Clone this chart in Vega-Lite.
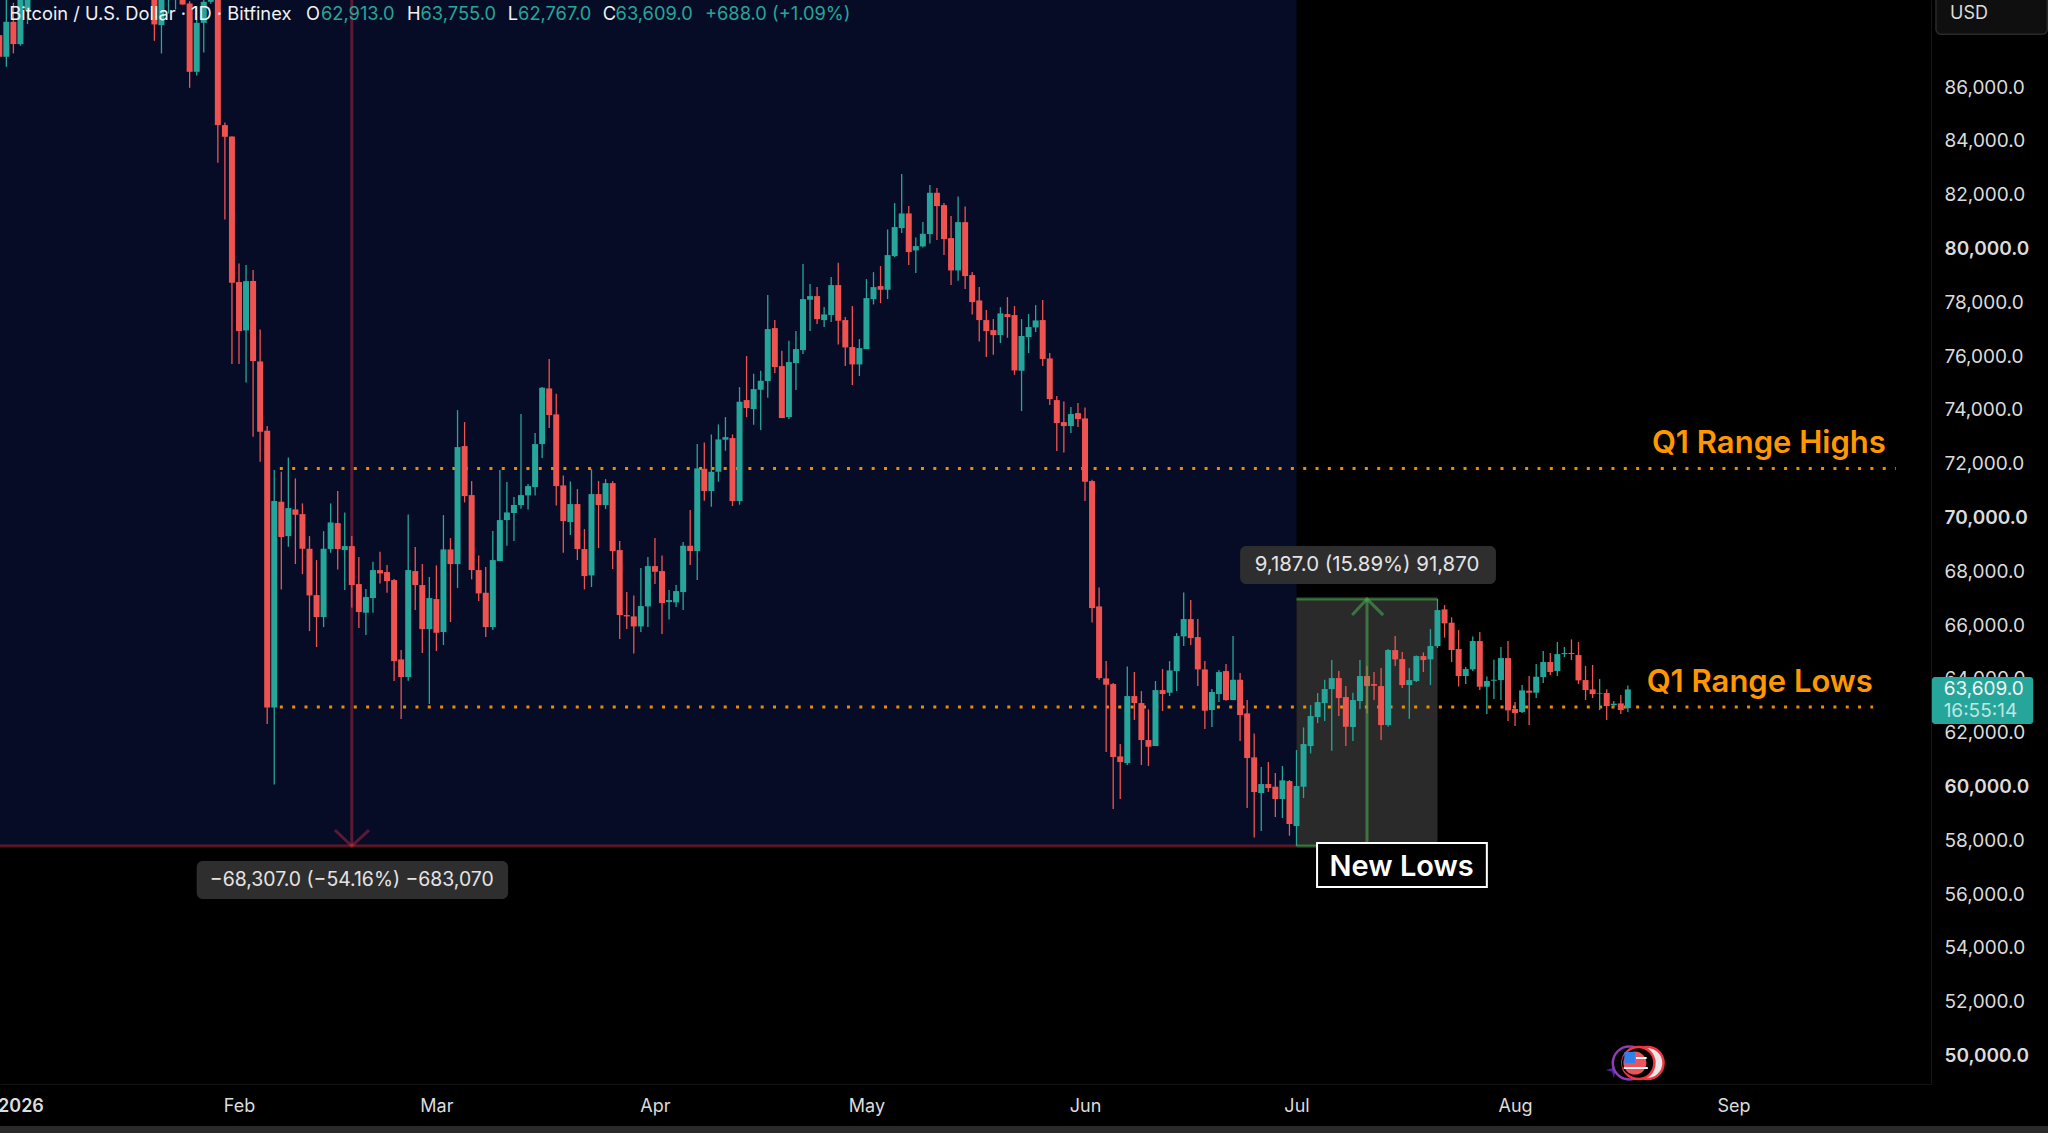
{
  "$schema": "https://vega.github.io/schema/vega-lite/v6.json",
  "width": 1931,
  "height": 1084,
  "autosize": "none",
  "padding": {"left": 0, "top": 0, "right": 117, "bottom": 49},
  "background": "#000000",
  "config": {"view": {"stroke": null}, "text": {"font": "Inter"}},
  "datasets": {
    "candles": [
      {"date":"2025-12-29","o":87932,"h":89500,"l":86780,"c":87127},
      {"date":"2025-12-30","o":87127,"h":89400,"l":86755,"c":88428},
      {"date":"2025-12-31","o":88428,"h":89134,"l":87251,"c":87598},
      {"date":"2026-01-01","o":87598,"h":89600,"l":87536,"c":89300},
      {"date":"2026-01-02","o":88861,"h":90500,"l":88341,"c":89900},
      {"date":"2026-01-20","o":90000,"h":90500,"l":87721,"c":88329},
      {"date":"2026-01-21","o":88304,"h":90000,"l":87251,"c":89400},
      {"date":"2026-01-22","o":89300,"h":90300,"l":88737,"c":89800},
      {"date":"2026-01-23","o":89350,"h":90500,"l":88886,"c":89900},
      {"date":"2026-01-24","o":89500,"h":89800,"l":89060,"c":89072},
      {"date":"2026-01-25","o":89109,"h":89196,"l":85974,"c":86569},
      {"date":"2026-01-26","o":86569,"h":89000,"l":86433,"c":88390},
      {"date":"2026-01-27","o":88390,"h":89500,"l":87288,"c":89171},
      {"date":"2026-01-28","o":89171,"h":89700,"l":89100,"c":89300},
      {"date":"2026-01-29","o":89300,"h":89600,"l":83187,"c":84587},
      {"date":"2026-01-30","o":84587,"h":84686,"l":81080,"c":84153},
      {"date":"2026-01-31","o":84165,"h":84165,"l":75703,"c":78726},
      {"date":"2026-02-01","o":78751,"h":79445,"l":75703,"c":76930},
      {"date":"2026-02-02","o":76955,"h":79383,"l":75022,"c":78788},
      {"date":"2026-02-03","o":78788,"h":79197,"l":73002,"c":75815},
      {"date":"2026-02-04","o":75802,"h":76992,"l":72072,"c":73188},
      {"date":"2026-02-05","o":73225,"h":73398,"l":62322,"c":62941},
      {"date":"2026-02-06","o":62941,"h":71763,"l":60079,"c":70610},
      {"date":"2026-02-07","o":70586,"h":71701,"l":67327,"c":69272},
      {"date":"2026-02-08","o":69309,"h":72234,"l":68913,"c":70350},
      {"date":"2026-02-09","o":70301,"h":71453,"l":68269,"c":70102},
      {"date":"2026-02-10","o":70127,"h":70524,"l":67897,"c":68839},
      {"date":"2026-02-11","o":68839,"h":69309,"l":65778,"c":67104},
      {"date":"2026-02-12","o":67116,"h":68417,"l":65184,"c":66299},
      {"date":"2026-02-13","o":66299,"h":69495,"l":65927,"c":68839},
      {"date":"2026-02-14","o":68826,"h":70524,"l":68690,"c":69817},
      {"date":"2026-02-15","o":69793,"h":70982,"l":68070,"c":68826},
      {"date":"2026-02-16","o":68789,"h":70189,"l":67302,"c":68938},
      {"date":"2026-02-17","o":68938,"h":69309,"l":66658,"c":67488},
      {"date":"2026-02-18","o":67525,"h":68529,"l":65890,"c":66485},
      {"date":"2026-02-19","o":66460,"h":67339,"l":65630,"c":67042},
      {"date":"2026-02-20","o":67005,"h":68355,"l":66460,"c":68046},
      {"date":"2026-02-21","o":68046,"h":68727,"l":67550,"c":67922},
      {"date":"2026-02-22","o":67971,"h":68232,"l":67203,"c":67637},
      {"date":"2026-02-23","o":67674,"h":67711,"l":63920,"c":64663},
      {"date":"2026-02-24","o":64725,"h":65072,"l":62507,"c":64069},
      {"date":"2026-02-25","o":64069,"h":70115,"l":63932,"c":68046},
      {"date":"2026-02-26","o":68009,"h":68901,"l":66559,"c":67488},
      {"date":"2026-02-27","o":67488,"h":68269,"l":64961,"c":65853},
      {"date":"2026-02-28","o":65853,"h":67786,"l":63065,"c":67005},
      {"date":"2026-03-01","o":66968,"h":68219,"l":65035,"c":65716},
      {"date":"2026-03-02","o":65741,"h":70090,"l":65258,"c":68814},
      {"date":"2026-03-03","o":68814,"h":69235,"l":66113,"c":68269},
      {"date":"2026-03-04","o":68269,"h":73993,"l":67377,"c":72618},
      {"date":"2026-03-05","o":72655,"h":73547,"l":70561,"c":70796},
      {"date":"2026-03-06","o":70833,"h":71354,"l":67699,"c":68046},
      {"date":"2026-03-07","o":68046,"h":68591,"l":66893,"c":67178},
      {"date":"2026-03-08","o":67203,"h":68157,"l":65555,"c":65927},
      {"date":"2026-03-09","o":65927,"h":69495,"l":65815,"c":68417},
      {"date":"2026-03-10","o":68380,"h":71763,"l":68380,"c":69904},
      {"date":"2026-03-11","o":69904,"h":71317,"l":68950,"c":70189},
      {"date":"2026-03-12","o":70164,"h":70759,"l":69124,"c":70462},
      {"date":"2026-03-13","o":70462,"h":73844,"l":70325,"c":70833},
      {"date":"2026-03-14","o":70821,"h":71242,"l":70301,"c":71168},
      {"date":"2026-03-15","o":71131,"h":73138,"l":70821,"c":72729},
      {"date":"2026-03-16","o":72729,"h":74848,"l":72209,"c":74823},
      {"date":"2026-03-17","o":74798,"h":75889,"l":73324,"c":73807},
      {"date":"2026-03-18","o":73832,"h":74600,"l":70449,"c":71168},
      {"date":"2026-03-19","o":71193,"h":71564,"l":68690,"c":69867},
      {"date":"2026-03-20","o":69830,"h":71341,"l":69347,"c":70499},
      {"date":"2026-03-21","o":70499,"h":71056,"l":68417,"c":68826},
      {"date":"2026-03-22","o":68826,"h":69570,"l":67327,"c":67823},
      {"date":"2026-03-23","o":67847,"h":71800,"l":67414,"c":70871},
      {"date":"2026-03-24","o":70871,"h":71354,"l":68863,"c":70462},
      {"date":"2026-03-25","o":70462,"h":71428,"l":70313,"c":71279},
      {"date":"2026-03-26","o":71279,"h":71354,"l":68083,"c":68752},
      {"date":"2026-03-27","o":68789,"h":69124,"l":65481,"c":66373},
      {"date":"2026-03-28","o":66373,"h":67228,"l":65853,"c":66323},
      {"date":"2026-03-29","o":66323,"h":67104,"l":64948,"c":65952},
      {"date":"2026-03-30","o":65952,"h":68120,"l":65741,"c":66708},
      {"date":"2026-03-31","o":66695,"h":68529,"l":65927,"c":68194},
      {"date":"2026-04-01","o":68194,"h":69235,"l":67525,"c":67984},
      {"date":"2026-04-02","o":68009,"h":68591,"l":65667,"c":66819},
      {"date":"2026-04-03","o":66856,"h":67302,"l":66212,"c":66931},
      {"date":"2026-04-04","o":66844,"h":67488,"l":66670,"c":67265},
      {"date":"2026-04-05","o":67228,"h":69086,"l":66559,"c":68950},
      {"date":"2026-04-06","o":68950,"h":70276,"l":68232,"c":68752},
      {"date":"2026-04-07","o":68752,"h":72729,"l":67674,"c":71825},
      {"date":"2026-04-08","o":71813,"h":72792,"l":70623,"c":70983},
      {"date":"2026-04-09","o":70983,"h":73089,"l":70400,"c":71701},
      {"date":"2026-04-10","o":71701,"h":73461,"l":71330,"c":72903},
      {"date":"2026-04-11","o":72891,"h":73733,"l":72482,"c":72990},
      {"date":"2026-04-12","o":72953,"h":73089,"l":70425,"c":70611},
      {"date":"2026-04-13","o":70611,"h":74848,"l":70475,"c":74303},
      {"date":"2026-04-14","o":74365,"h":76001,"l":73733,"c":74068},
      {"date":"2026-04-15","o":74031,"h":75344,"l":73448,"c":74774},
      {"date":"2026-04-16","o":74749,"h":75456,"l":73250,"c":75084},
      {"date":"2026-04-17","o":75071,"h":78268,"l":74452,"c":77004},
      {"date":"2026-04-18","o":77041,"h":77339,"l":75369,"c":75592},
      {"date":"2026-04-19","o":75629,"h":76199,"l":73696,"c":73696},
      {"date":"2026-04-20","o":73733,"h":76571,"l":73659,"c":75778},
      {"date":"2026-04-21","o":75741,"h":76930,"l":74737,"c":76261},
      {"date":"2026-04-22","o":76224,"h":79420,"l":76075,"c":78119},
      {"date":"2026-04-23","o":78095,"h":78677,"l":76930,"c":78231},
      {"date":"2026-04-24","o":78231,"h":78565,"l":77190,"c":77376},
      {"date":"2026-04-25","o":77339,"h":77822,"l":77079,"c":77549},
      {"date":"2026-04-26","o":77525,"h":78937,"l":77264,"c":78640},
      {"date":"2026-04-27","o":78640,"h":79470,"l":76434,"c":77314},
      {"date":"2026-04-28","o":77339,"h":77450,"l":75629,"c":76323},
      {"date":"2026-04-29","o":76335,"h":77859,"l":74923,"c":75691},
      {"date":"2026-04-30","o":75691,"h":76633,"l":75257,"c":76298},
      {"date":"2026-05-01","o":76261,"h":78863,"l":76261,"c":78157},
      {"date":"2026-05-02","o":78119,"h":79123,"l":77921,"c":78565},
      {"date":"2026-05-03","o":78603,"h":79346,"l":77971,"c":78466},
      {"date":"2026-05-04","o":78466,"h":80709,"l":78119,"c":79755},
      {"date":"2026-05-05","o":79718,"h":81688,"l":79681,"c":80796},
      {"date":"2026-05-06","o":80758,"h":82766,"l":80573,"c":81304},
      {"date":"2026-05-07","o":81304,"h":81576,"l":79383,"c":79866},
      {"date":"2026-05-08","o":79928,"h":80412,"l":79086,"c":80089},
      {"date":"2026-05-09","o":80077,"h":80981,"l":80040,"c":80548},
      {"date":"2026-05-10","o":80535,"h":82357,"l":80188,"c":82072},
      {"date":"2026-05-11","o":82072,"h":82245,"l":80312,"c":81576},
      {"date":"2026-05-12","o":81613,"h":81688,"l":79755,"c":80350},
      {"date":"2026-05-13","o":80387,"h":81204,"l":78640,"c":79185},
      {"date":"2026-05-14","o":79185,"h":81935,"l":78801,"c":80981},
      {"date":"2026-05-15","o":80981,"h":81564,"l":78491,"c":78974},
      {"date":"2026-05-16","o":79011,"h":79123,"l":77549,"c":78008},
      {"date":"2026-05-17","o":78070,"h":78565,"l":76546,"c":77339},
      {"date":"2026-05-18","o":77339,"h":77710,"l":75964,"c":76930},
      {"date":"2026-05-19","o":76967,"h":77376,"l":76050,"c":76781},
      {"date":"2026-05-20","o":76781,"h":77822,"l":76484,"c":77587},
      {"date":"2026-05-21","o":77562,"h":78194,"l":76682,"c":77450},
      {"date":"2026-05-22","o":77525,"h":77859,"l":75307,"c":75468},
      {"date":"2026-05-23","o":75456,"h":77376,"l":73956,"c":76744},
      {"date":"2026-05-24","o":76707,"h":77562,"l":76112,"c":77079},
      {"date":"2026-05-25","o":77066,"h":77896,"l":76893,"c":77326},
      {"date":"2026-05-26","o":77339,"h":78082,"l":75629,"c":75889},
      {"date":"2026-05-27","o":75914,"h":76112,"l":74179,"c":74402},
      {"date":"2026-05-28","o":74365,"h":74514,"l":72470,"c":73510},
      {"date":"2026-05-29","o":73547,"h":74316,"l":72420,"c":73399},
      {"date":"2026-05-30","o":73399,"h":74105,"l":73139,"c":73845},
      {"date":"2026-05-31","o":73882,"h":74254,"l":73362,"c":73659},
      {"date":"2026-06-01","o":73684,"h":74093,"l":70611,"c":71330},
      {"date":"2026-06-02","o":71354,"h":71400,"l":66101,"c":66633},
      {"date":"2026-06-03","o":66695,"h":67401,"l":63969,"c":64031},
      {"date":"2026-06-04","o":64019,"h":64663,"l":61281,"c":63784},
      {"date":"2026-06-05","o":63808,"h":63850,"l":59162,"c":61095},
      {"date":"2026-06-06","o":61120,"h":61578,"l":59534,"c":60909},
      {"date":"2026-06-07","o":60872,"h":64465,"l":60798,"c":63362},
      {"date":"2026-06-08","o":63362,"h":64254,"l":62470,"c":63102},
      {"date":"2026-06-09","o":63102,"h":63548,"l":60798,"c":61727},
      {"date":"2026-06-10","o":61727,"h":62867,"l":60760,"c":61479},
      {"date":"2026-06-11","o":61504,"h":63920,"l":61504,"c":63585},
      {"date":"2026-06-12","o":63585,"h":64366,"l":62805,"c":63437},
      {"date":"2026-06-13","o":63486,"h":64663,"l":63362,"c":64316},
      {"date":"2026-06-14","o":64292,"h":65704,"l":63548,"c":65592},
      {"date":"2026-06-15","o":65580,"h":67216,"l":65221,"c":66224},
      {"date":"2026-06-16","o":66224,"h":66931,"l":65258,"c":65518},
      {"date":"2026-06-17","o":65555,"h":66224,"l":63734,"c":64353},
      {"date":"2026-06-18","o":64353,"h":64663,"l":62136,"c":62817},
      {"date":"2026-06-19","o":62842,"h":63622,"l":62210,"c":63511},
      {"date":"2026-06-20","o":63437,"h":64329,"l":63139,"c":64254},
      {"date":"2026-06-21","o":64292,"h":64552,"l":63190,"c":63214},
      {"date":"2026-06-22","o":63214,"h":65592,"l":63214,"c":63969},
      {"date":"2026-06-23","o":63969,"h":64217,"l":61690,"c":62656},
      {"date":"2026-06-24","o":62718,"h":63214,"l":59199,"c":61058},
      {"date":"2026-06-25","o":61083,"h":61975,"l":58109,"c":59794},
      {"date":"2026-06-26","o":59757,"h":60723,"l":58344,"c":60091},
      {"date":"2026-06-27","o":60091,"h":60909,"l":59794,"c":59943},
      {"date":"2026-06-28","o":59992,"h":60500,"l":58865,"c":59534},
      {"date":"2026-06-29","o":59534,"h":60760,"l":58828,"c":60228},
      {"date":"2026-06-30","o":60203,"h":60240,"l":58171,"c":58605},
      {"date":"2026-07-01","o":58530,"h":61355,"l":57787,"c":60017},
      {"date":"2026-07-02","o":59992,"h":62198,"l":59571,"c":61578},
      {"date":"2026-07-03","o":61504,"h":63028,"l":61231,"c":62619},
      {"date":"2026-07-04","o":62582,"h":63474,"l":62359,"c":63139},
      {"date":"2026-07-05","o":63102,"h":63969,"l":62433,"c":63622},
      {"date":"2026-07-06","o":63622,"h":64700,"l":61330,"c":64031},
      {"date":"2026-07-07","o":64031,"h":64292,"l":62619,"c":63288},
      {"date":"2026-07-08","o":63325,"h":63734,"l":61504,"c":62222},
      {"date":"2026-07-09","o":62210,"h":63486,"l":61690,"c":63214},
      {"date":"2026-07-10","o":63176,"h":64700,"l":62879,"c":64106},
      {"date":"2026-07-11","o":64106,"h":64477,"l":62718,"c":63734},
      {"date":"2026-07-12","o":63808,"h":64254,"l":63214,"c":63746},
      {"date":"2026-07-13","o":63734,"h":64403,"l":61727,"c":62284},
      {"date":"2026-07-14","o":62284,"h":65109,"l":62222,"c":65072},
      {"date":"2026-07-15","o":65072,"h":65592,"l":64477,"c":64725},
      {"date":"2026-07-16","o":64738,"h":64998,"l":63660,"c":63771},
      {"date":"2026-07-17","o":63771,"h":64403,"l":62507,"c":63957},
      {"date":"2026-07-18","o":63920,"h":64874,"l":63883,"c":64849},
      {"date":"2026-07-19","o":64849,"h":64985,"l":64254,"c":64700},
      {"date":"2026-07-20","o":64725,"h":65853,"l":63771,"c":65221},
      {"date":"2026-07-21","o":65221,"h":66968,"l":65146,"c":66559},
      {"date":"2026-07-22","o":66584,"h":66745,"l":65531,"c":66064},
      {"date":"2026-07-23","o":66089,"h":66287,"l":64627,"c":65073},
      {"date":"2026-07-24","o":65110,"h":65816,"l":63722,"c":64106},
      {"date":"2026-07-25","o":64106,"h":64441,"l":63809,"c":64366},
      {"date":"2026-07-26","o":64354,"h":65581,"l":64292,"c":65407},
      {"date":"2026-07-27","o":65407,"h":65742,"l":63586,"c":63710},
      {"date":"2026-07-28","o":63710,"h":64094,"l":62694,"c":63920},
      {"date":"2026-07-29","o":63933,"h":64713,"l":63251,"c":63970},
      {"date":"2026-07-30","o":63957,"h":65184,"l":63214,"c":64775},
      {"date":"2026-07-31","o":64775,"h":65407,"l":62434,"c":62830},
      {"date":"2026-08-01","o":62880,"h":63140,"l":62248,"c":62731},
      {"date":"2026-08-02","o":62768,"h":63772,"l":62731,"c":63573},
      {"date":"2026-08-03","o":63561,"h":64106,"l":62285,"c":63487},
      {"date":"2026-08-04","o":63487,"h":64552,"l":63288,"c":64081},
      {"date":"2026-08-05","o":64069,"h":65035,"l":63846,"c":64627},
      {"date":"2026-08-06","o":64627,"h":64961,"l":64143,"c":64255},
      {"date":"2026-08-07","o":64292,"h":65370,"l":64106,"c":64924},
      {"date":"2026-08-08","o":64924,"h":65184,"l":64812,"c":64961},
      {"date":"2026-08-09","o":64961,"h":65469,"l":64701,"c":64924},
      {"date":"2026-08-10","o":64887,"h":65370,"l":63809,"c":63945},
      {"date":"2026-08-11","o":63957,"h":64478,"l":63214,"c":63586},
      {"date":"2026-08-12","o":63611,"h":64515,"l":63288,"c":63437},
      {"date":"2026-08-13","o":63450,"h":63995,"l":62842,"c":63474},
      {"date":"2026-08-14","o":63474,"h":63611,"l":62471,"c":62991},
      {"date":"2026-08-15","o":63028,"h":63177,"l":62917,"c":63078},
      {"date":"2026-08-16","o":63090,"h":63400,"l":62694,"c":62842},
      {"date":"2026-08-17","o":62913,"h":63755,"l":62767,"c":63609}
    ],
    "dotted": [
      {"level":"high","date":"2026-02-06T19:00:00Z","price":71819},
      {"level":"high","date":"2026-09-24T00:00:00Z","price":71819},
      {"level":"low","date":"2026-02-06T19:00:00Z","price":62954},
      {"level":"low","date":"2026-09-20T19:00:00Z","price":62954}
    ],
    "redLines": [
      {"part":"base","date":"2025-12-29T02:24:00Z","price":57787},
      {"part":"base","date":"2026-07-01T00:00:00Z","price":57787},
      {"part":"shaft","date":"2026-02-17T00:00:00Z","price":89238},
      {"part":"shaft","date":"2026-02-17T00:00:00Z","price":57787},
      {"part":"head","date":"2026-02-14T14:24:00Z","price":58382},
      {"part":"head","date":"2026-02-17T00:00:00Z","price":57787},
      {"part":"head","date":"2026-02-19T10:30:00Z","price":58382}
    ],
    "greenLines": [
      {"part":"top","date":"2026-07-01T00:00:00Z","price":66974},
      {"part":"top","date":"2026-07-21T00:00:00Z","price":66974},
      {"part":"bottom","date":"2026-07-01T00:00:00Z","price":57787},
      {"part":"bottom","date":"2026-07-21T00:00:00Z","price":57787},
      {"part":"shaft","date":"2026-07-11T00:00:00Z","price":57787},
      {"part":"shaft","date":"2026-07-11T00:00:00Z","price":66974},
      {"part":"head","date":"2026-07-08T21:36:00Z","price":66373},
      {"part":"head","date":"2026-07-11T00:00:00Z","price":66974},
      {"part":"head","date":"2026-07-13T07:12:00Z","price":66373}
    ],
    "headerWhite": [
      {"date":"2025-12-30T10:00:00Z","price":88675,"label":"Bitcoin / U.S. Dollar · 1D · Bitfinex"},
      {"date":"2026-02-10T12:00:00Z","price":88675,"label":"O"},
      {"date":"2026-02-24T20:00:00Z","price":88675,"label":"H"},
      {"date":"2026-03-11T03:00:00Z","price":88675,"label":"L"},
      {"date":"2026-03-24T14:00:00Z","price":88675,"label":"C"}
    ],
    "headerTeal": [
      {"date":"2026-02-12T15:00:00Z","price":88675,"label":"62,913.0"},
      {"date":"2026-02-26T18:00:00Z","price":88675,"label":"63,755.0"},
      {"date":"2026-03-12T14:00:00Z","price":88675,"label":"62,767.0"},
      {"date":"2026-03-26T10:00:00Z","price":88675,"label":"63,609.0"},
      {"date":"2026-04-08T02:00:00Z","price":88675,"label":"+688.0 (+1.09%)"}
    ],
    "measureBoxes": [
      {"date":"2026-01-26T00:00:00Z","date2":"2026-03-11T04:00:00Z","price":55817,"price2":57230},
      {"date":"2026-06-23T00:00:00Z","date2":"2026-07-29T07:00:00Z","price":67526,"price2":68938}
    ],
    "orangeLabels": [
      {"date":"2026-09-06T00:00:00Z","price":72730,"label":"Q1 Range Highs"},
      {"date":"2026-09-04T17:00:00Z","price":63846,"label":"Q1 Range Lows"}
    ]
  },
  "encoding": {
    "x": {
      "field": "date",
      "type": "temporal",
      "scale": {"type": "utc", "domain": [1766975040000, 1790640000000], "padding": 0},
      "axis": {
        "title": null,
        "grid": false,
        "ticks": false,
        "domainColor": "#161616",
        "values": [1767225600000, 1769904000000, 1772323200000, 1775001600000, 1777593600000, 1780272000000, 1782864000000, 1785542400000, 1788220800000],
        "labelExpr": "utcmonth(datum.value) == 0 ? '2026' : utcFormat(datum.value, '%b')",
        "labelFont": "Inter",
        "labelFontSize": 18,
        "labelColor": "#dcdcdc",
        "labelPadding": 13,
        "labelFlush": false,
        "labelOverlap": false,
        "labelFontWeight": {"condition": {"test": "utcmonth(datum.value) == 0", "value": 600}, "value": 400}
      }
    },
    "y": {
      "field": "price",
      "type": "quantitative",
      "scale": {"domain": [48941, 89238], "nice": false, "zero": false},
      "axis": {
        "title": null,
        "orient": "right",
        "grid": false,
        "ticks": false,
        "domainColor": "#161616",
        "values": [50000, 52000, 54000, 56000, 58000, 60000, 62000, 64000, 66000, 68000, 70000, 72000, 74000, 76000, 78000, 80000, 82000, 84000, 86000],
        "format": ",.1f",
        "labelFont": "Inter",
        "labelFontSize": 19,
        "labelColor": "#dcdcdc",
        "labelAlign": "left",
        "labelPadding": 13,
        "labelOverlap": false,
        "labelFontWeight": {"condition": {"test": "datum.value % 10000 == 0", "value": 600}, "value": 400}
      }
    }
  },
  "layer": [
    {
      "data": {"values": [{"date":"2025-12-29T02:24:00Z","date2":"2026-07-01T00:00:00Z","price":57787,"price2":89238}]},
      "mark": {"type": "rect", "color": "#060c26"},
      "encoding": {"x2": {"field": "date2"}, "y2": {"field": "price2"}}
    },
    {
      "data": {"values": [{"date":"2026-07-01T00:00:00Z","date2":"2026-07-21T00:00:00Z","price":57787,"price2":66974}]},
      "mark": {"type": "rect", "color": "#2a2a2a"},
      "encoding": {"x2": {"field": "date2"}, "y2": {"field": "price2"}}
    },
    {
      "data": {"name": "dotted"},
      "mark": {"type": "line", "color": "#ff9800", "strokeWidth": 3, "strokeDash": [3, 9.33], "opacity": 0.92},
      "encoding": {"detail": {"field": "level"}}
    },
    {
      "data": {"name": "candles"},
      "mark": {"type": "rule", "strokeWidth": 1.3, "clip": true},
      "encoding": {
        "y": {
          "field": "l",
          "type": "quantitative",
          "scale": {"domain": [48941, 89238], "nice": false, "zero": false},
          "axis": {
            "title": null,
            "orient": "right",
            "grid": false,
            "ticks": false,
            "domainColor": "#161616",
            "values": [50000, 52000, 54000, 56000, 58000, 60000, 62000, 64000, 66000, 68000, 70000, 72000, 74000, 76000, 78000, 80000, 82000, 84000, 86000],
            "format": ",.1f",
            "labelFont": "Inter",
            "labelFontSize": 19,
            "labelColor": "#dcdcdc",
            "labelAlign": "left",
            "labelPadding": 13,
            "labelOverlap": false,
            "labelFontWeight": {"condition": {"test": "datum.value % 10000 == 0", "value": 600}, "value": 400}
          }
        },
        "y2": {"field": "h"},
        "color": {"condition": {"test": "datum.c >= datum.o", "value": "#26a69a"}, "value": "#ef5350"}
      }
    },
    {
      "data": {"name": "candles"},
      "mark": {"type": "bar", "size": 6, "minBandSize": 1.5, "clip": true},
      "encoding": {
        "y": {
          "field": "o",
          "type": "quantitative",
          "scale": {"domain": [48941, 89238], "nice": false, "zero": false},
          "axis": {
            "title": null,
            "orient": "right",
            "grid": false,
            "ticks": false,
            "domainColor": "#161616",
            "values": [50000, 52000, 54000, 56000, 58000, 60000, 62000, 64000, 66000, 68000, 70000, 72000, 74000, 76000, 78000, 80000, 82000, 84000, 86000],
            "format": ",.1f",
            "labelFont": "Inter",
            "labelFontSize": 19,
            "labelColor": "#dcdcdc",
            "labelAlign": "left",
            "labelPadding": 13,
            "labelOverlap": false,
            "labelFontWeight": {"condition": {"test": "datum.value % 10000 == 0", "value": 600}, "value": 400}
          }
        },
        "y2": {"field": "c"},
        "color": {"condition": {"test": "datum.c >= datum.o", "value": "#26a69a"}, "value": "#ef5350"}
      }
    },
    {
      "data": {"name": "redLines"},
      "mark": {"type": "line", "color": "#f23645", "opacity": 0.36, "strokeWidth": 3},
      "encoding": {"detail": {"field": "part"}}
    },
    {
      "data": {"name": "greenLines"},
      "mark": {"type": "line", "color": "#4caf50", "opacity": 0.55, "strokeWidth": 3},
      "encoding": {"detail": {"field": "part"}}
    },
    {
      "data": {"name": "measureBoxes"},
      "mark": {"type": "rect", "color": "#2e2e2f", "cornerRadius": 6},
      "encoding": {"x2": {"field": "date2"}, "y2": {"field": "price2"}}
    },
    {
      "data": {"values": [{"date":"2026-02-17T00:00:00Z","price":56523,"label":"−68,307.0 (−54.16%) −683,070"}]},
      "mark": {"type": "text", "color": "#e4e4e4", "fontSize": 19.4, "align": "center", "baseline": "middle"},
      "encoding": {"text": {"field": "label"}}
    },
    {
      "data": {"values": [{"date":"2026-07-11T00:00:00Z","price":68232,"label":"9,187.0 (15.89%) 91,870"}]},
      "mark": {"type": "text", "color": "#e4e4e4", "fontSize": 20.4, "align": "center", "baseline": "middle"},
      "encoding": {"text": {"field": "label"}}
    },
    {
      "data": {"values": [{"date":"2026-07-03T22:00:00Z","date2":"2026-07-28T00:00:00Z","price":56263,"price2":57899}]},
      "mark": {"type": "rect", "fill": "#000000", "stroke": "#ffffff", "strokeWidth": 2},
      "encoding": {"x2": {"field": "date2"}, "y2": {"field": "price2"}}
    },
    {
      "data": {"values": [{"date":"2026-07-15T22:00:00Z","price":57007,"label":"New Lows"}]},
      "mark": {"type": "text", "color": "#ffffff", "fontSize": 29, "fontWeight": 600, "align": "center", "baseline": "middle"},
      "encoding": {"text": {"field": "label"}}
    },
    {
      "data": {"name": "orangeLabels"},
      "mark": {"type": "text", "color": "#ff9800", "fontSize": 31, "fontWeight": 600, "align": "center", "baseline": "middle"},
      "encoding": {"text": {"field": "label"}}
    },
    {
      "data": {"name": "headerWhite"},
      "mark": {"type": "text", "color": "#f2f2f2", "fontSize": 18.3, "align": "left", "baseline": "middle"},
      "encoding": {"text": {"field": "label"}}
    },
    {
      "data": {"name": "headerTeal"},
      "mark": {"type": "text", "color": "#26a69a", "fontSize": 18.3, "align": "left", "baseline": "middle"},
      "encoding": {"text": {"field": "label"}}
    },
    {
      "data": {"values": [{"date":"2026-09-29T03:00:00Z","date2":"2026-10-13T12:00:00Z","price":62322,"price2":64069}]},
      "mark": {"type": "rect", "color": "#26a69a", "cornerRadius": 3},
      "encoding": {"x2": {"field": "date2"}, "y2": {"field": "price2"}}
    },
    {
      "data": {"values": [{"date":"2026-09-30T19:00:00Z","price":63623,"label":"63,609.0"}]},
      "mark": {"type": "text", "color": "#f4f4f4", "fontSize": 19, "align": "left", "baseline": "middle"},
      "encoding": {"text": {"field": "label"}}
    },
    {
      "data": {"values": [{"date":"2026-09-30T19:00:00Z","price":62805,"label":"16:55:14"}]},
      "mark": {"type": "text", "color": "#bfe5e1", "fontSize": 19, "align": "left", "baseline": "middle"},
      "encoding": {"text": {"field": "label"}}
    },
    {
      "data": {"values": [{"date":"2026-09-29T17:00:00Z","date2":"2026-10-15T12:00:00Z","price":87969,"price2":90200}]},
      "mark": {"type": "rect", "fill": "#0f0f0f", "stroke": "#2a2a2a", "strokeWidth": 1.5, "cornerRadius": 5},
      "encoding": {"x2": {"field": "date2"}, "y2": {"field": "price2"}}
    },
    {
      "data": {"values": [{"date":"2026-10-01T17:00:00Z","price":88712,"label":"USD"}]},
      "mark": {"type": "text", "color": "#dcdcdc", "fontSize": 18, "align": "left", "baseline": "middle"},
      "encoding": {"text": {"field": "label"}}
    },
    {
      "data": {"values": [{"date":"2026-08-15T00:00:00Z","price":49461}]},
      "mark": {"type": "point", "shape": "M0,-1 L0.22,-0.22 L1,0 L0.22,0.22 L0,1 L-0.22,0.22 L-1,0 L-0.22,-0.22 Z", "size": 260, "filled": true, "color": "#4527a0", "opacity": 1},
      "encoding": {}
    },
    {
      "data": {"values": [{"date":"2026-08-17T05:00:00Z","price":49720}]},
      "mark": {"type": "point", "shape": "circle", "size": 1089, "fill": "#000000", "stroke": "#8e3bb5", "strokeWidth": 2.5, "opacity": 1},
      "encoding": {}
    },
    {
      "data": {"values": [{"date":"2026-08-19T19:00:00Z","price":49720}]},
      "mark": {"type": "point", "shape": "circle", "size": 1024, "fill": "#e8e8e8", "stroke": "#f23645", "strokeWidth": 2.5, "opacity": 1},
      "encoding": {}
    },
    {
      "data": {"values": [{"date":"2026-08-18T12:00:00Z","price":49720}]},
      "mark": {"type": "point", "shape": "circle", "size": 1024, "fill": "#000000", "stroke": "#f23645", "strokeWidth": 2.5, "opacity": 1},
      "encoding": {}
    },
    {
      "data": {"values": [{"date":"2026-08-18T00:00:00Z","price":49720}]},
      "mark": {"type": "point", "shape": "circle", "size": 600, "fill": "#f0525a", "stroke": "#000000", "strokeWidth": 1.5, "opacity": 1},
      "encoding": {}
    },
    {
      "data": {"values": [
        {"date":"2026-08-18T04:00:00Z","date2":"2026-08-19T16:00:00Z","price":49907},
        {"date":"2026-08-16T10:00:00Z","date2":"2026-08-19T20:00:00Z","price":49535}
      ]},
      "mark": {"type": "rule", "color": "#ffffff", "strokeWidth": 2},
      "encoding": {"x2": {"field": "date2"}}
    },
    {
      "data": {"values": [{"date":"2026-08-16T12:00:00Z","date2":"2026-08-18T00:00:00Z","price":49720,"price2":50130}]},
      "mark": {"type": "rect", "color": "#2f80ed"},
      "encoding": {"x2": {"field": "date2"}, "y2": {"field": "price2"}}
    },
    {
      "data": {"values": [{"date":"2025-12-29T02:24:00Z","date2":"2026-10-17T00:00:00Z","price":47120,"price2":47380}]},
      "mark": {"type": "rect", "color": "#2a2a2a"},
      "encoding": {"x2": {"field": "date2"}, "y2": {"field": "price2"}}
    }
  ]
}
